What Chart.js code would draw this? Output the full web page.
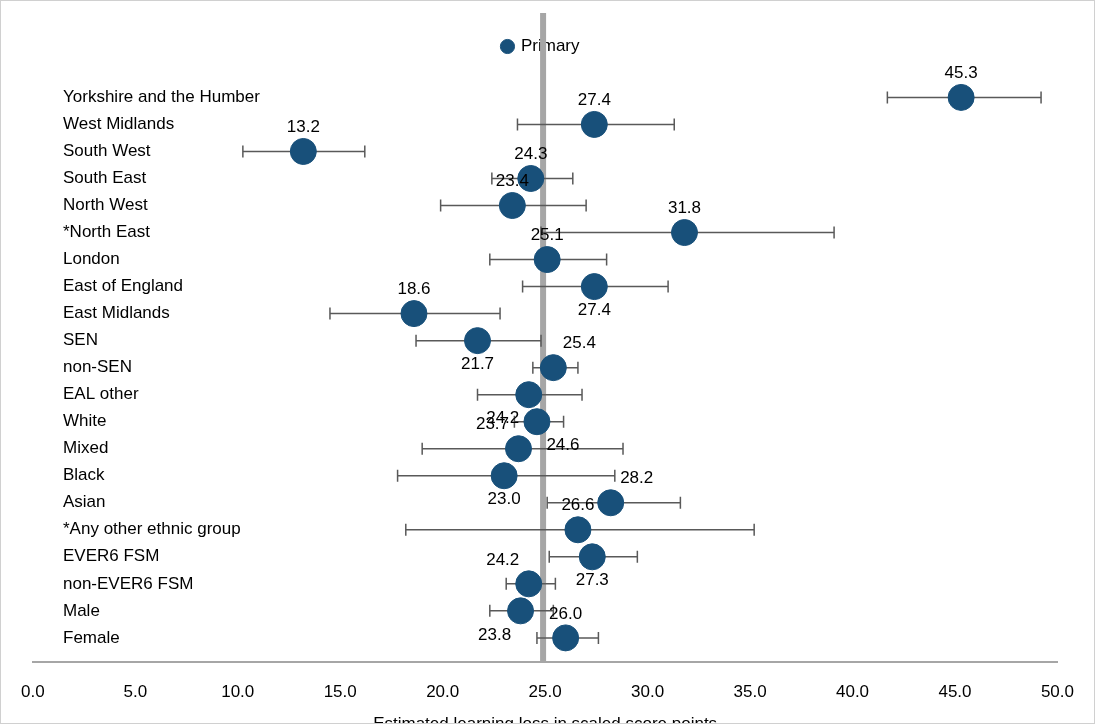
<!DOCTYPE html>
<html><head><meta charset="utf-8">
<script src="https://cdn.jsdelivr.net/npm/chart.js@4/dist/chart.umd.min.js"></script>
<style>body{margin:0;background:#fff}#w{width:1095px;height:724px;box-sizing:border-box;border:1px solid #d0d0d0}</style>
</head><body><div id="w"><canvas id="c" width="1093" height="722"></canvas></div>
<script>
const categories=["Yorkshire and the Humber","West Midlands","South West","South East","North West","*North East","London","East of England","East Midlands","SEN","non-SEN","EAL other","White","Mixed","Black","Asian","*Any other ethnic group","EVER6 FSM","non-EVER6 FSM","Male","Female"];
const values=[45.3,27.4,13.2,24.3,23.4,31.8,25.1,27.4,18.6,21.7,25.4,24.2,24.6,23.7,23.0,28.2,26.6,27.3,24.2,23.8,26.0];
const lower=[41.7,23.65,10.25,22.4,19.9,24.8,22.3,23.9,14.5,18.7,24.4,21.7,23.5,19.0,17.8,25.1,18.2,25.2,23.1,22.3,24.6];
const upper=[49.2,31.3,16.2,26.35,27.0,39.1,28.0,31.0,22.8,24.8,26.6,26.8,25.9,28.8,28.4,31.6,35.2,29.5,25.5,25.4,27.6];
const labelPlace=["a","a","a","a","a","a","a","b","a","b","ar","bl","br","al","b","ar","a","b","al","bl","a"];
const refLine=24.9;
const xTicks=[0,5,10,15,20,25,30,35,40,45,50];
const F="'Liberation Sans', Arial, sans-serif";
const col="#18507a";
const plug={id:"p",
beforeDatasetsDraw(ch){const c=ch.ctx,x=ch.scales.x,y=ch.scales.y,a=ch.chartArea;
 c.save();c.strokeStyle="#a6a6a6";c.lineWidth=6;c.beginPath();c.moveTo(x.getPixelForValue(refLine),12);c.lineTo(x.getPixelForValue(refLine),a.bottom);c.stroke();
 c.strokeStyle="#595959";c.lineWidth=1.5;
 values.forEach((v,i)=>{const yy=y.getPixelForValue(i),l=x.getPixelForValue(lower[i]),u=x.getPixelForValue(upper[i]);
  c.beginPath();c.moveTo(l,yy);c.lineTo(u,yy);c.moveTo(l,yy-6);c.lineTo(l,yy+6);c.moveTo(u,yy-6);c.lineTo(u,yy+6);c.stroke();});
 c.fillStyle="#000";c.font="17px "+F;c.textBaseline="middle";c.textAlign="left";
 categories.forEach((t,i)=>c.fillText(t,62,y.getPixelForValue(i)));
 c.restore();},
afterDatasetsDraw(ch){const c=ch.ctx,x=ch.scales.x,y=ch.scales.y;c.save();c.fillStyle="#000";c.font="17px "+F;c.textBaseline="middle";c.textAlign="center";
 values.forEach((v,i)=>{let px=x.getPixelForValue(v),py=y.getPixelForValue(i);const p=labelPlace[i];
  let dy=p[0]=="a"?-24:24,dx=p[1]=="l"?-26:p[1]=="r"?26:0;c.fillText(v.toFixed(1),px+dx,py+dy);});c.restore();}};
new Chart(document.getElementById("c"),{type:"scatter",
data:{datasets:[{label:"Primary",data:values.map((v,i)=>({x:v,y:i})),backgroundColor:col,borderColor:col,pointRadius:13,pointHoverRadius:13}]},
options:{responsive:false,animation:false,devicePixelRatio:1,
 layout:{padding:{left:19,right:32,top:23,bottom:0}},
 plugins:{legend:{position:"top",align:"center",labels:{usePointStyle:true,pointStyle:"circle",boxWidth:10,boxHeight:10,padding:14,color:"#000",font:{family:F,size:17}}},tooltip:{enabled:false}},
 scales:{x:{type:"linear",min:0,max:50,afterBuildTicks:s=>{s.ticks=xTicks.map(v=>({value:v}))},
   grid:{display:false,drawTicks:false},border:{color:"#a6a6a6",width:2},
   ticks:{color:"#000",font:{family:F,size:17},padding:20,callback:v=>v.toFixed(1)},
   title:{display:true,text:"Estimated learning loss in scaled score points",color:"#000",font:{family:F,size:17},padding:{top:-8,bottom:-12}}},
  y:{type:"linear",min:-1.2,max:20.9,reverse:true,display:false}}},
plugins:[plug]});
</script></body></html>
